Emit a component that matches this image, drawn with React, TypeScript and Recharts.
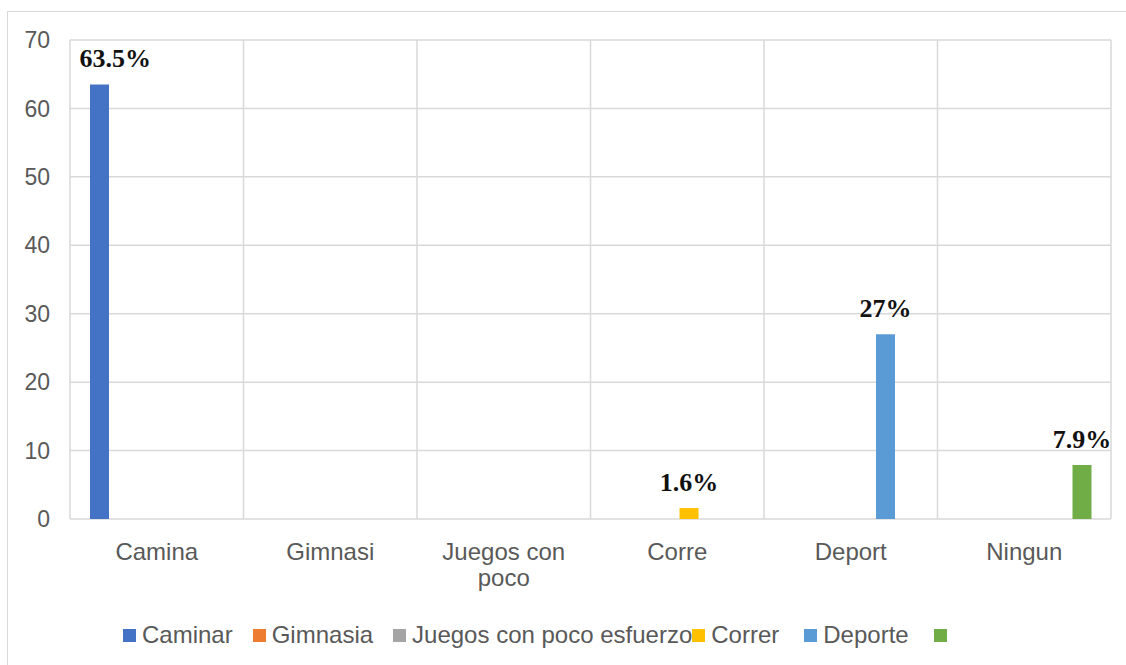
import React from 'react';
import { BarChart, Bar, XAxis, YAxis, CartesianGrid, Legend, LabelList } from 'recharts';

const categories = ['Camina', 'Gimnasi', 'Juegos con poco', 'Corre', 'Deport', 'Ningun'];
const caminar = [63.5, 0, 0, 0, 0, 0];
const gimnasia = [0, 0, 0, 0, 0, 0];
const juegos = [0, 0, 0, 0, 0, 0];
const correr = [0, 0, 0, 1.6, 0, 0];
const deporte = [0, 0, 0, 0, 27, 0];
const ninguno = [0, 0, 0, 0, 0, 7.9];
const seriesNames = ['Caminar', 'Gimnasia', 'Juegos con poco esfuerzo', 'Correr', 'Deporte', ''];
const seriesColors = ['#4472C4', '#ED7D31', '#A5A5A5', '#FFC000', '#5B9BD5', '#70AD47'];
const yTicks = [0, 10, 20, 30, 40, 50, 60, 70];

const seriesValues = [caminar, gimnasia, juegos, correr, deporte, ninguno];
const chartData = categories.map((name, i) => {
  const row: Record<string, any> = { name };
  seriesValues.forEach((vals, s) => {
    row[`s${s}`] = vals[i];
  });
  return row;
});

const SANS = "'Liberation Sans', Arial, sans-serif";
const SERIF = "'Liberation Serif', 'Times New Roman', serif";
const PLOT_LEFT = 62;
const MAX_LINE_CHARS = 12;
// Excel lays legend entries out in slots; the long one runs into the next
const legendGaps = [20, 20, 0, 25, 25, 0];

const wrapWords = (label: string) => {
  const lines: string[] = [];
  let cur = '';
  label.split(' ').forEach((w) => {
    const next = cur ? `${cur} ${w}` : w;
    if (next.length > MAX_LINE_CHARS && cur) {
      lines.push(cur);
      cur = w;
    } else {
      cur = next;
    }
  });
  if (cur) lines.push(cur);
  return lines;
};

const BarLabel = (props: any) => {
  const { x, y, width, value } = props;
  if (!value) return null;
  const text = `${value}%`;
  const approxW = text.length * 14.5;
  let cx = x + width / 2;
  // keep the label inside the plot area, like Excel does
  if (cx - approxW / 2 < PLOT_LEFT + 9) cx = PLOT_LEFT + 9 + approxW / 2;
  return (
    <text x={cx} y={y - 17} textAnchor="middle" fontFamily={SERIF} fontWeight="bold" fontSize={26} fill="#111">
      {text}
    </text>
  );
};

const CategoryTick = (props: any) => {
  const { x, y, payload } = props;
  const lines = wrapWords(String(payload.value));
  return (
    <text x={x} y={y + 17} textAnchor="middle" fontFamily={SANS} fontSize={24} fill="#595959">
      {lines.map((l, i) => (
        <tspan key={i} x={x} dy={i === 0 ? 0 : 26}>
          {l}
        </tspan>
      ))}
    </text>
  );
};

const renderLegend = () => (
  <div
    style={{
      display: 'flex',
      alignItems: 'center',
      paddingLeft: 115,
      height: 40,
      fontFamily: SANS,
      fontSize: 24,
      color: '#595959',
      whiteSpace: 'nowrap',
    }}
  >
    {seriesNames.map((n, i) => (
      <div key={i} style={{ display: 'flex', alignItems: 'center', marginRight: legendGaps[i] }}>
        <span style={{ display: 'inline-block', width: 13, height: 13, background: seriesColors[i], marginRight: 6 }} />
        <span>{n}</span>
      </div>
    ))}
  </div>
);

export default function App() {
  return (
    <div style={{ position: 'fixed', left: 0, top: 0, width: 1126, height: 665, overflow: 'hidden', background: '#fff' }}>
      <div style={{ position: 'absolute', left: 7, top: 11, width: 1130, height: 670, border: '1px solid #d9d9d9' }}>
        <BarChart
          width={1118}
          height={655}
          data={chartData}
          margin={{ top: 28, right: 15, left: 0, bottom: 12 }}
          barCategoryGap={20}
          barGap={4}
        >
          <CartesianGrid
            stroke="#d9d9d9"
            strokeWidth={1.5}
            verticalCoordinatesGenerator={({ offset }: any) =>
              Array.from({ length: categories.length + 1 }, (_, i) => offset.left + (i * offset.width) / categories.length)
            }
          />
          <XAxis
            dataKey="name"
            axisLine={false}
            tickLine={false}
            tickSize={0}
            tickMargin={24}
            height={96}
            interval={0}
            tick={<CategoryTick />}
          />
          <YAxis
            domain={[0, 70]}
            ticks={yTicks}
            width={62}
            axisLine={false}
            tickLine={false}
            tickSize={0}
            tickMargin={20}
            tick={{ fontFamily: SANS, fontSize: 23, fill: '#595959' }}
          />
          <Legend verticalAlign="bottom" content={renderLegend} />
          {seriesNames.map((n, s) => (
            <Bar key={s} dataKey={`s${s}`} name={n || 'Serie 6'} fill={seriesColors[s]} isAnimationActive={false}>
              <LabelList dataKey={`s${s}`} content={<BarLabel />} />
            </Bar>
          ))}
        </BarChart>
      </div>
    </div>
  );
}
